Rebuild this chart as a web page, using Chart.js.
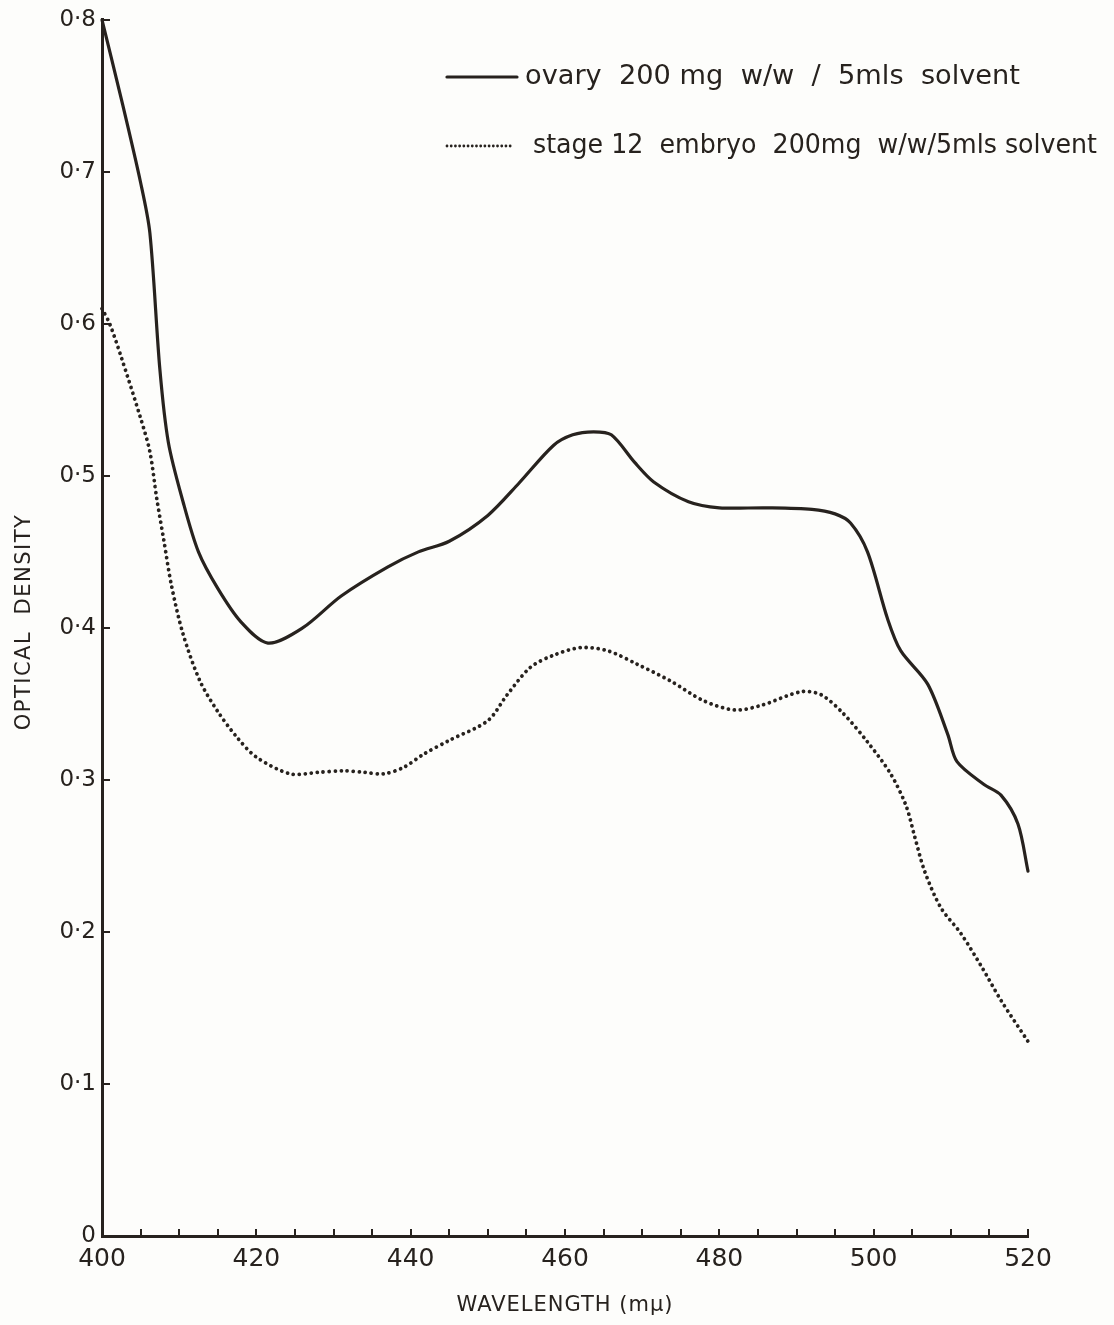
<!DOCTYPE html>
<html>
<head>
<meta charset="utf-8">
<script src="https://cdn.jsdelivr.net/npm/chart.js@4/dist/chart.umd.min.js"></script>
<style>
  html, body { margin: 0; padding: 0; background: #fdfdfb; }
  #wrap { width: 1114px; height: 1325px; }
</style>
</head>
<body>
<div id="wrap"><canvas id="c" width="1114" height="1325"></canvas></div>
<script>
// Absorption spectra: optical density against wavelength (mμ)
const ovaryWavelength = [400, 402.5, 405, 406.2, 407.5, 408.6, 410.5, 412.5, 415, 418, 421.5, 426, 431, 437, 441, 445, 450, 454, 458.5, 461, 463.7, 466, 469, 471.5, 476, 480, 486, 492, 495, 497, 499.2, 501.8, 503.5, 507, 509.6, 510.8, 514.3, 516.5, 518.7, 520];
const ovaryDensity    = [0.800, 0.748, 0.693, 0.660, 0.570, 0.522, 0.483, 0.450, 0.426, 0.404, 0.390, 0.400, 0.421, 0.440, 0.450, 0.457, 0.474, 0.495, 0.520, 0.527, 0.529, 0.527, 0.509, 0.496, 0.483, 0.479, 0.479, 0.478, 0.475, 0.469, 0.450, 0.406, 0.385, 0.363, 0.330, 0.312, 0.297, 0.290, 0.271, 0.240];

const embryoWavelength = [400, 401, 402.5, 405, 406.2, 407.1, 408, 409, 410.5, 412.7, 415, 417.5, 420, 424.4, 428, 431.3, 434, 436.5, 439, 441.7, 445, 450, 452.5, 455.5, 458.5, 462, 465.5, 469.4, 473.7, 478, 482, 485.4, 490.6, 493.2, 496, 499.2, 502.2, 504.2, 505.3, 506.6, 508.7, 511.3, 514, 516.5, 520];
const embryoDensity    = [0.610, 0.600, 0.578, 0.538, 0.516, 0.485, 0.458, 0.428, 0.396, 0.365, 0.345, 0.328, 0.315, 0.304, 0.305, 0.306, 0.305, 0.304, 0.308, 0.317, 0.326, 0.339, 0.356, 0.374, 0.382, 0.387, 0.385, 0.376, 0.365, 0.352, 0.346, 0.349, 0.358, 0.356, 0.344, 0.325, 0.304, 0.283, 0.263, 0.240, 0.216, 0.199, 0.177, 0.155, 0.128];

const xTickLabels = [400, 420, 440, 460, 480, 500, 520];
const yTickLabels = ['0', '0·1', '0·2', '0·3', '0·4', '0·5', '0·6', '0·7', '0·8'];

const seriesNames = [
  'ovary  200 mg  w/w  /  5mls  solvent',
  'stage 12  embryo  200mg  w/w/5mls solvent'
];

const INK = '#27221e';
const FONT = '"DejaVu Sans", "Liberation Sans", sans-serif';

const toPoints = (xs, ys) => xs.map((x, i) => ({ x, y: ys[i] }));

// Paper background, inward tick marks, axis titles and the key
const decorations = {
  id: 'decorations',
  beforeDraw(chart) {
    const ctx = chart.ctx;
    ctx.save();
    ctx.fillStyle = '#fdfdfb';
    ctx.fillRect(0, 0, chart.width, chart.height);
    ctx.restore();
  },
  afterDraw(chart) {
    const ctx = chart.ctx;
    const xs = chart.scales.x, ys = chart.scales.y;
    const area = chart.chartArea;
    ctx.save();
    ctx.strokeStyle = INK;
    ctx.lineWidth = 2;
    ctx.lineCap = 'butt';
    // x ticks every 5 mμ, pointing up into the plot
    xs.ticks.forEach(t => {
      const px = Math.round(xs.getPixelForValue(t.value));
      ctx.beginPath();
      ctx.moveTo(px, area.bottom);
      ctx.lineTo(px, area.bottom - 7);
      ctx.stroke();
    });
    // y ticks every 0.1, pointing right into the plot
    ys.ticks.forEach(t => {
      const py = Math.round(ys.getPixelForValue(t.value));
      ctx.beginPath();
      ctx.moveTo(area.left, py);
      ctx.lineTo(area.left + 8, py);
      ctx.stroke();
    });

    // axis titles
    ctx.fillStyle = INK;
    ctx.font = '21px ' + FONT;
    ctx.letterSpacing = '1px';
    ctx.textAlign = 'center';
    ctx.textBaseline = 'middle';
    ctx.fillText('WAVELENGTH (mμ)', 565, 1306);
    ctx.save();
    ctx.translate(25, 622);
    ctx.rotate(-Math.PI / 2);
    ctx.letterSpacing = '1.5px';
    ctx.fillText('OPTICAL  DENSITY', 0, 0);
    ctx.restore();
    ctx.letterSpacing = '0px';

    // key
    const keyRows = [
      { y: 77, x0: 447, x1: 517, tx: 525, tw: 495, dash: null },
      { y: 146, x0: 447, x1: 511, tx: 533, tw: 564, dash: [0.01, 4.2], width: 2.8 }
    ];
    chart.data.datasets.forEach((ds, i) => {
      const r = keyRows[i];
      ctx.save();
      ctx.strokeStyle = ds.borderColor;
      ctx.lineWidth = r.width || ds.borderWidth;
      ctx.lineCap = ds.borderCapStyle || 'butt';
      ctx.setLineDash(r.dash || ds.borderDash || []);
      ctx.beginPath();
      ctx.moveTo(r.x0, r.y);
      ctx.lineTo(r.x1, r.y);
      ctx.stroke();
      ctx.restore();

      ctx.save();
      ctx.font = '26px ' + FONT;
      ctx.textAlign = 'left';
      ctx.textBaseline = 'middle';
      const w = ctx.measureText(ds.label).width;
      ctx.translate(r.tx, r.y);
      ctx.scale(r.tw / w, 1);
      ctx.fillStyle = INK;
      ctx.fillText(ds.label, 0, 0);
      ctx.restore();
    });
    ctx.restore();
  }
};

new Chart(document.getElementById('c'), {
  type: 'line',
  data: {
    datasets: [
      {
        label: seriesNames[0],
        data: toPoints(ovaryWavelength, ovaryDensity),
        borderColor: INK,
        borderWidth: 3.2,
        borderCapStyle: 'round',
        borderJoinStyle: 'round',
        pointRadius: 0,
        tension: 0.3,
        fill: false,
        clip: false
      },
      {
        label: seriesNames[1],
        data: toPoints(embryoWavelength, embryoDensity),
        borderColor: INK,
        borderWidth: 3.8,
        borderCapStyle: 'round',
        borderDash: [0.01, 6],
        pointRadius: 0,
        tension: 0.3,
        fill: false,
        clip: false
      }
    ]
  },
  options: {
    responsive: false,
    animation: false,
    events: [],
    layout: { padding: { top: 17, right: 86, left: 0, bottom: 0 } },
    plugins: { legend: { display: false }, tooltip: { enabled: false } },
    scales: {
      x: {
        type: 'linear',
        min: 400,
        max: 520,
        afterFit: s => { s.height = 89; },
        afterBuildTicks: s => {
          s.ticks = [];
          for (let v = 400; v <= 520; v += 5) s.ticks.push({ value: v });
        },
        ticks: {
          autoSkip: false,
          maxRotation: 0,
          padding: 8,
          color: INK,
          font: { family: FONT, size: 25 },
          callback: v => (xTickLabels.includes(v) ? String(v) : '')
        },
        grid: { drawOnChartArea: false, drawTicks: false },
        border: { display: true, color: INK, width: 3 }
      },
      y: {
        type: 'linear',
        min: 0,
        max: 0.8,
        afterFit: s => { s.width = 102; },
        afterBuildTicks: s => {
          s.ticks = yTickLabels.map((_, i) => ({ value: i / 10 }));
        },
        ticks: {
          padding: 6,
          color: INK,
          font: { family: FONT, size: 23 },
          callback: v => yTickLabels[Math.round(v * 10)]
        },
        grid: { drawOnChartArea: false, drawTicks: false },
        border: { display: true, color: INK, width: 3 }
      }
    }
  },
  plugins: [decorations]
});
</script>
</body>
</html>
